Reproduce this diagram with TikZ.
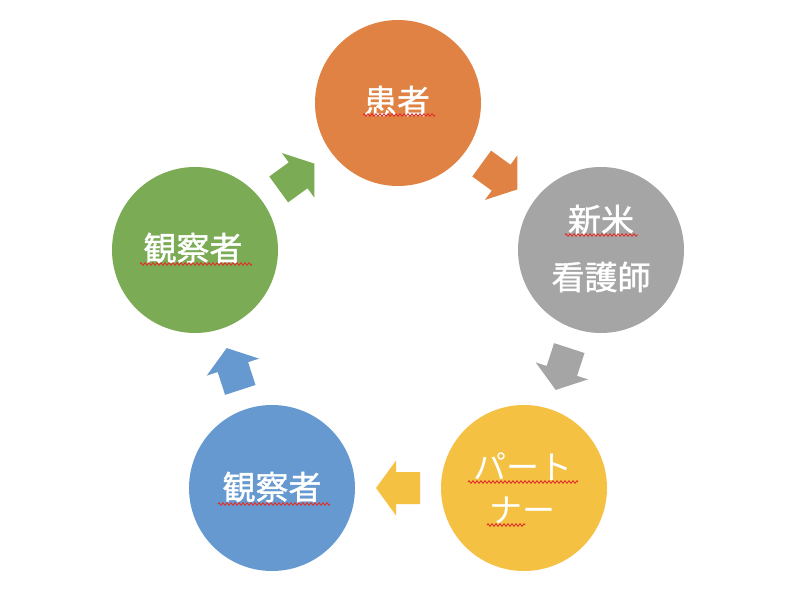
\documentclass[tikz,border=0pt]{standalone}
\usepackage{fontspec}
\setmainfont{Noto Sans CJK JP}
\newfontfamily\kanjifont[FakeBold=1.2]{Noto Sans CJK JP}
\usetikzlibrary{decorations.pathmorphing,calc}
\definecolor{cOrange}{HTML}{DF8244}
\definecolor{cGray}{HTML}{A5A5A5}
\definecolor{cYellow}{HTML}{F4C143}
\definecolor{cBlue}{HTML}{6699D0}
\definecolor{cGreen}{HTML}{7BAB55}
\definecolor{cSquig}{HTML}{E0302A}
\tikzset{
  bubble/.style={circle, minimum size=166pt, inner sep=0pt, draw=none},
  lbl/.style={text=white, font=\kanjifont\fontsize{33}{38}\selectfont, inner sep=0pt, anchor=center},
  kana/.style={text=white, font=\fontsize{33}{38}\selectfont, inner sep=0pt, anchor=center},
  squig/.style={draw=cSquig, line width=0.9pt, decorate,
    decoration={zigzag, segment length=4pt, amplitude=1.2pt}},
  blockarrow/.pic={\fill[pic actions] (-22,-16) -- (2,-16) -- (2,-27.5) -- (22,0)
      -- (2,27.5) -- (2,16) -- (-22,16) -- cycle;}
}
\begin{document}
\begin{tikzpicture}[x=1pt, y=-1pt]
\useasboundingbox (0,0) rectangle (800,610);
% circles
\node[bubble, fill=cOrange] (pat) at (398,103) {};
\node[bubble, fill=cGray]   (nur) at (601,250) {};
\node[bubble, fill=cYellow] (par) at (524,488) {};
\node[bubble, fill=cBlue]   (obsb) at (272,488) {};
\node[bubble, fill=cGreen]  (obsg) at (195,250) {};
% labels
\node[lbl] (t1) at (397,101) {患者};
\node[lbl] (t2a) at (601,220) {新米};
\node[lbl] (t2b) at (601,277) {看護師};
\node[kana] (t3a) at (523,467) {パート};
\node[kana] (t3b) at (522,510) {ナー};
\node[lbl] (t4) at (272,487) {観察者};
\node[lbl] (t5) at (193,248) {観察者};
% spell-check squiggles
\draw[squig] (363,115) -- (435,115);
\draw[squig] (565,235) -- (638,235);
\draw[squig] (468,482) -- (578,482);
\draw[squig] (487,525) -- (525,525);
\draw[squig] (218,504) -- (330,504);
\draw[squig] (140,264) -- (252,264);
% block arrows
\pic[fill=cOrange, rotate=-36]  at ($(pat)!0.5!(nur)$) {blockarrow};
\pic[fill=cGray,   rotate=-108] at ($(nur)!0.5!(par)$) {blockarrow};
\pic[fill=cYellow, rotate=180]  at ($(par)!0.5!(obsb)$) {blockarrow};
\pic[fill=cBlue,   rotate=108]  at ($(obsb)!0.5!(obsg)$) {blockarrow};
\pic[fill=cGreen,  rotate=36]   at ($(obsg)!0.5!(pat)$) {blockarrow};
\end{tikzpicture}
\end{document}
